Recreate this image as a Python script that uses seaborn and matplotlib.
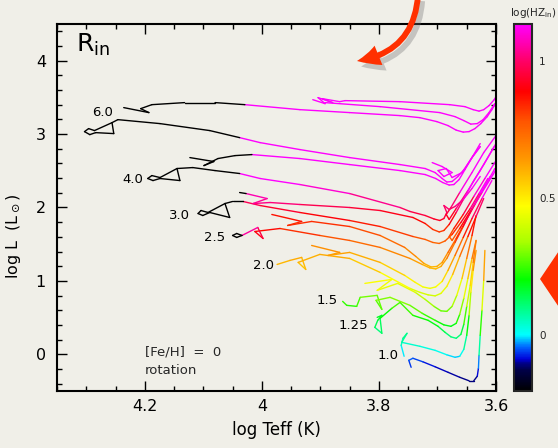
import numpy as np
import pandas as pd
import matplotlib
matplotlib.use("Agg")
import matplotlib.pyplot as plt
import seaborn as sns
from matplotlib.colors import LinearSegmentedColormap, Normalize
from matplotlib.ticker import MultipleLocator, FixedLocator
from matplotlib.patches import FancyArrowPatch, Polygon
import matplotlib.patheffects as pe

BG = "#f0efe8"
sns.set_theme(style="ticks")
plt.rcParams["font.family"] = ["DejaVu Sans"]
plt.rcParams["mathtext.fontset"] = "dejavusans"

# ---------------- data: evolutionary tracks (log Teff, log L, log HZ_in; None = black) -------------
m60_a_logT = [4.236, 4.193, 4.207, 4.188, 4.132, 4.080, 4.029, 3.935, 3.850, 3.764, 3.730, 3.701, 3.682, 3.668,
              3.656, 3.646, 3.636, 3.626, 3.615, 3.607, 3.600]
m60_a_logL = [3.361, 3.293, 3.347, 3.401, 3.429, 3.429, 3.401, 3.333, 3.293, 3.252, 3.224, 3.170, 3.116, 3.054,
              3.027, 3.034, 3.075, 3.143, 3.238, 3.333, 3.429]
m60_a_hz = [None, None, None, None, None, None, 1.65, 1.61, 1.60, 1.58, 1.57, 1.56, 1.53, 1.50,
            1.48, 1.49, 1.51, 1.54, 1.59, 1.64, 1.68]

m60_b_logT = [3.627, 3.639, 3.653, 3.665, 3.675, 3.684, 3.692, 3.704, 3.721, 3.764, 3.850, 3.935, 4.003, 4.038,
              4.089, 4.174, 4.246, 4.256, 4.253, 4.284, 4.294, 4.303, 4.296, 4.286, 4.256]
m60_b_logL = [2.871, 2.707, 2.531, 2.422, 2.354, 2.347, 2.395, 2.476, 2.531, 2.585, 2.680, 2.789, 2.884, 2.952,
              3.048, 3.143, 3.197, 3.156, 3.007, 3.020, 2.993, 3.034, 3.075, 3.048, 3.156]
m60_b_hz = [1.44, 1.35, 1.27, 1.21, 1.18, 1.17, 1.20, 1.24, 1.27, 1.29, 1.33, 1.37, 1.41, 1.44,
            None, None, None, None, None, None, None, None, None, None, None]

m60_c_logT = [3.913, 3.892, 3.904, 3.879, 3.897, 3.867, 3.858, 3.764, 3.679, 3.653, 3.639, 3.629, 3.621, 3.612,
              3.603, 3.600]
m60_c_logL = [3.469, 3.415, 3.497, 3.429, 3.483, 3.442, 3.456, 3.442, 3.401, 3.374, 3.333, 3.313, 3.333, 3.388,
              3.469, 3.510]
m60_c_hz = [1.7] * 16

m60_d_logT = [3.892, 3.798, 3.696, 3.670, 3.655, 3.643, 3.632, 3.622, 3.612, 3.602]
m60_d_logL = [3.429, 3.374, 3.293, 3.238, 3.184, 3.136, 3.143, 3.197, 3.293, 3.415]
m60_d_hz = [1.65] * 10

m40_a_logT = [4.123, 4.082, 4.099, 4.075, 4.046, 4.017, 3.935, 3.850, 3.764, 3.721, 3.703, 3.691, 3.680, 3.672,
              3.663, 3.653, 3.641, 3.627]
m40_a_logL = [2.680, 2.626, 2.571, 2.667, 2.707, 2.721, 2.667, 2.585, 2.503, 2.449, 2.395, 2.340, 2.306, 2.313,
              2.381, 2.517, 2.680, 2.830]
m40_a_hz = [None, None, None, None, None, 1.31, 1.28, 1.24, 1.22, 1.20, 1.18, 1.15, 1.14, 1.14,
            1.17, 1.24, 1.32, 1.40]

m40_b_logT = [3.627, 3.641, 3.656, 3.670, 3.680, 3.689, 3.684, 3.689, 3.696, 3.706, 3.721, 3.747, 3.764, 3.850,
              3.935, 4.003, 4.038, 4.080, 4.118, 4.145, 4.140, 4.174, 4.186, 4.195, 4.188, 4.174, 4.145]
m40_b_logL = [2.422, 2.259, 2.109, 2.014, 1.973, 2.027, 1.932, 1.850, 1.823, 1.844, 1.891, 1.946, 2.000, 2.190,
              2.313, 2.395, 2.463, 2.503, 2.544, 2.531, 2.367, 2.395, 2.367, 2.395, 2.435, 2.408, 2.531]
m40_b_hz = [1.22, 1.13, 1.06, 1.01, 0.99, 1.02, 0.97, 0.93, 0.92, 0.93, 0.95, 0.97, 1.00, 1.07,
            1.12, 1.16, 1.20, None, None, None, None, None, None, None, None, None, None]

m40_c_logT = [3.709, 3.692, 3.675, 3.689, 3.699, 3.685, 3.675, 3.658, 3.641, 3.627]
m40_c_logL = [2.612, 2.558, 2.476, 2.422, 2.503, 2.531, 2.408, 2.476, 2.680, 2.830]
m40_c_hz = [1.25] * 10

m30_a_logT = [4.038, 4.027, 3.991, 4.015, 3.986, 3.935, 3.850, 3.798, 3.742, 3.721, 3.708, 3.697, 3.689, 3.680,
              3.668, 3.653, 3.638, 3.621, 3.603]
m30_a_logL = [2.204, 2.190, 2.122, 2.054, 2.068, 2.041, 2.000, 1.959, 1.864, 1.782, 1.701, 1.667, 1.687, 1.769,
              1.932, 2.150, 2.367, 2.585, 2.830]
m30_a_hz = [None, 1.08, 1.05, 1.03, 1.03, 1.00, 0.95, 0.93, 0.90, 0.86, 0.82, 0.81, 0.82, 0.86,
            0.95, 1.06, 1.16, 1.27, 1.39]

m30_b_logT = [3.614, 3.629, 3.644, 3.660, 3.675, 3.687, 3.697, 3.708, 3.721, 3.742, 3.798, 3.850, 3.935, 4.003,
              4.032, 4.050, 4.063, 4.055, 4.089, 4.101, 4.109, 4.104, 4.092, 4.063]
m30_b_logL = [2.395, 2.190, 1.986, 1.796, 1.633, 1.544, 1.510, 1.524, 1.565, 1.605, 1.741, 1.823, 1.932, 2.027,
              2.082, 2.082, 2.054, 1.864, 1.932, 1.891, 1.918, 1.959, 1.932, 2.054]
m30_b_hz = [1.17, 1.07, 0.97, 0.88, 0.80, 0.76, 0.74, 0.75, 0.77, 0.79, 0.84, 0.87, 0.92, 0.96,
            1.00, None, None, None, None, None, None, None, None, None]

m30_c_logT = [3.600, 3.621, 3.641, 3.662, 3.677, 3.685, 3.680, 3.668, 3.648, 3.627, 3.607, 3.600]
m30_c_logL = [2.980, 2.748, 2.476, 2.204, 2.000, 1.905, 1.837, 1.986, 2.231, 2.503, 2.776, 2.871]
m30_c_hz = [1.40, 1.30, 1.18, 1.05, 0.97, 0.92, 0.90, 0.96, 1.08, 1.20, 1.35, 1.40]

m25_a_logT = [3.983, 3.932, 3.956, 3.915, 3.850, 3.798, 3.756, 3.737, 3.723, 3.711, 3.701, 3.692, 3.682, 3.668,
              3.653, 3.636, 3.619, 3.602]
m25_a_logL = [1.905, 1.810, 1.755, 1.810, 1.741, 1.619, 1.456, 1.333, 1.238, 1.190, 1.197, 1.252, 1.388, 1.578,
              1.796, 2.041, 2.286, 2.531]
m25_a_hz = [0.89, 0.85, 0.82, 0.85, 0.81, 0.77, 0.70, 0.65, 0.61, 0.59, 0.59, 0.62, 0.69, 0.78,
            0.89, 1.02, 1.14, 1.26]

m25_b_logT = [4.034, 4.043, 4.050, 4.043, 4.034, 4.007, 3.998, 4.012, 3.969, 3.901, 3.850, 3.798, 3.747, 3.726,
              3.713, 3.703, 3.694, 3.684, 3.670, 3.656, 3.641, 3.626, 3.610]
m25_b_logL = [1.619, 1.646, 1.619, 1.592, 1.619, 1.728, 1.578, 1.673, 1.714, 1.619, 1.551, 1.456, 1.306, 1.224,
              1.177, 1.163, 1.197, 1.306, 1.524, 1.741, 1.986, 2.204, 2.422]
m25_b_hz = [None, None, None, None, 1.10, 1.00, 0.92, 0.90, 0.86, 0.80, 0.76, 0.71, 0.64, 0.61,
            0.59, 0.58, 0.60, 0.65, 0.76, 0.87, 0.99, 1.10, 1.21]

m25_c_logT = [3.600, 3.619, 3.638, 3.656, 3.672, 3.680, 3.675, 3.662, 3.643, 3.624, 3.605, 3.600]
m25_c_logL = [2.639, 2.395, 2.150, 1.905, 1.714, 1.605, 1.551, 1.714, 1.959, 2.204, 2.449, 2.517]
m25_c_hz = [1.28, 1.16, 1.03, 0.90, 0.82, 0.77, 0.74, 0.82, 0.94, 1.06, 1.20, 1.23]

m20_a_logT = [3.915, 3.867, 3.887, 3.850, 3.798, 3.756, 3.738, 3.725, 3.713, 3.703, 3.692, 3.682, 3.670, 3.656,
              3.641, 3.624, 3.607]
m20_a_logL = [1.483, 1.388, 1.347, 1.388, 1.252, 1.075, 0.980, 0.918, 0.898, 0.918, 0.993, 1.143, 1.347, 1.592,
              1.850, 2.122, 2.367]
m20_a_hz = [0.68, 0.64, 0.62, 0.63, 0.58, 0.51, 0.47, 0.45, 0.44, 0.45, 0.49, 0.57, 0.67, 0.79,
            0.92, 1.06, 1.18]

m20_b_logT = [3.974, 3.952, 3.932, 3.925, 3.938, 3.901, 3.850, 3.798, 3.747, 3.730, 3.716, 3.704, 3.694, 3.684,
              3.674, 3.662, 3.648, 3.634, 3.621]
m20_b_logL = [1.224, 1.279, 1.320, 1.156, 1.252, 1.361, 1.306, 1.116, 0.898, 0.844, 0.810, 0.796, 0.830, 0.925,
              1.088, 1.333, 1.605, 1.878, 2.122]
m20_b_hz = [0.58, 0.60, 0.62, 0.55, 0.58, 0.62, 0.60, 0.52, 0.42, 0.41, 0.40, 0.40, 0.41, 0.46,
            0.54, 0.66, 0.80, 0.94, 1.06]

m15_a_logT = [3.824, 3.778, 3.803, 3.768, 3.738, 3.721, 3.706, 3.694, 3.684, 3.675, 3.667, 3.658, 3.650, 3.641, 3.634]
m15_a_logL = [0.966, 1.020, 0.871, 0.966, 0.844, 0.748, 0.653, 0.592, 0.585, 0.653, 0.803, 1.034, 1.306, 1.619, 1.891]
m15_a_hz = [0.45, 0.48, 0.42, 0.45, 0.40, 0.36, 0.31, 0.28, 0.28, 0.31, 0.38, 0.50, 0.64, 0.80, 0.93]

m15_b_logT = [3.862, 3.855, 3.838, 3.832, 3.803, 3.795, 3.805, 3.781, 3.747, 3.726, 3.704, 3.689, 3.677, 3.668,
              3.662, 3.655, 3.648, 3.641, 3.634]
m15_b_logL = [0.721, 0.667, 0.653, 0.776, 0.803, 0.612, 0.735, 0.776, 0.667, 0.558, 0.463, 0.401, 0.381, 0.422,
              0.544, 0.762, 1.034, 1.306, 1.551]
m15_b_hz = [0.25, 0.23, 0.23, 0.28, 0.31, 0.25, 0.29, 0.32, 0.30, 0.26, 0.22, 0.19, 0.18, 0.20,
            0.26, 0.37, 0.50, 0.64, 0.76]

m125_b_logT = [3.803, 3.795, 3.802, 3.807, 3.795, 3.798, 3.778, 3.764, 3.742, 3.716, 3.699, 3.687, 3.677, 3.668,
               3.660, 3.655, 3.650, 3.644, 3.639, 3.634]
m125_b_logL = [0.503, 0.531, 0.463, 0.367, 0.286, 0.490, 0.626, 0.707, 0.531, 0.463, 0.381, 0.299, 0.238, 0.218,
               0.272, 0.408, 0.653, 0.939, 1.252, 1.551]
m125_b_hz = [0.17, 0.18, 0.16, 0.12, 0.09, 0.17, 0.24, 0.28, 0.22, 0.20, 0.17, 0.13, 0.10, 0.10,
             0.12, 0.19, 0.32, 0.46, 0.62, 0.77]

m10_a_logT = [3.757, 3.762, 3.759, 3.752, 3.761, 3.730, 3.704, 3.684, 3.670, 3.662, 3.655, 3.650, 3.646, 3.643,
              3.639, 3.634]
m10_a_logL = [-0.027, 0.122, 0.218, 0.286, 0.163, 0.109, 0.054, -0.007, -0.041, -0.027, 0.068, 0.259, 0.531, 0.844,
              1.143, 1.415]
m10_a_hz = [-0.04, 0.03, 0.08, 0.11, 0.05, 0.03, 0.02, 0.00, -0.02, -0.01, 0.03, 0.13, 0.27, 0.42, 0.58, 0.71]

m10_b_logT = [3.619, 3.621, 3.624, 3.627, 3.629, 3.630, 3.632, 3.638, 3.646, 3.662, 3.682, 3.704, 3.725, 3.742,
              3.749, 3.745]
m10_b_logL = [1.415, 1.007, 0.599, 0.259, -0.014, -0.190, -0.299, -0.361, -0.361, -0.313, -0.245, -0.170, -0.102,
              -0.054, -0.082, -0.177]
m10_b_hz = [0.72, 0.52, 0.32, 0.15, 0.00, -0.07, -0.10, -0.11, -0.11, -0.10, -0.10, -0.09, -0.07, -0.05,
            -0.05, -0.08]

# track labels
mass_labels = ["6.0", "4.0", "3.0", "2.5", "2.0", "1.5", "1.25", "1.0"]
mass_label_logT = [4.272, 4.221, 4.140, 4.080, 3.998, 3.889, 3.843, 3.785]
mass_label_logL = [3.293, 2.381, 1.891, 1.592, 1.211, 0.735, 0.395, -0.014]

# colour scale of log(HZ_in)
cbar_stops = [-0.205, -0.13, -0.105, -0.09, -0.045, 0.0, 0.1, 0.2, 0.34, 0.47, 0.64, 0.78, 0.89, 1.0, 1.135]
cbar_colors = ["#000000", "#000048", "#000088", "#0000d8", "#0066ff", "#00ffff", "#00ff80", "#00ff00",
               "#aaff00", "#ffff00", "#ff9900", "#ff5500", "#ff0000", "#ff0066", "#ff00ff"]
cbar_ticks = [0, 0.5, 1]
cbar_ticklabels = ["0", "0.5", "1"]

pieces = [
    (m60_a_logT, m60_a_logL, m60_a_hz), (m60_b_logT, m60_b_logL, m60_b_hz),
    (m60_c_logT, m60_c_logL, m60_c_hz), (m60_d_logT, m60_d_logL, m60_d_hz),
    (m40_a_logT, m40_a_logL, m40_a_hz), (m40_b_logT, m40_b_logL, m40_b_hz),
    (m40_c_logT, m40_c_logL, m40_c_hz),
    (m30_a_logT, m30_a_logL, m30_a_hz), (m30_b_logT, m30_b_logL, m30_b_hz),
    (m30_c_logT, m30_c_logL, m30_c_hz),
    (m25_a_logT, m25_a_logL, m25_a_hz), (m25_b_logT, m25_b_logL, m25_b_hz),
    (m25_c_logT, m25_c_logL, m25_c_hz),
    (m20_a_logT, m20_a_logL, m20_a_hz), (m20_b_logT, m20_b_logL, m20_b_hz),
    (m15_a_logT, m15_a_logL, m15_a_hz), (m15_b_logT, m15_b_logL, m15_b_hz),
    (m125_b_logT, m125_b_logL, m125_b_hz),
    (m10_a_logT, m10_a_logL, m10_a_hz), (m10_b_logT, m10_b_logL, m10_b_hz),
]

rows = []
seg = 0
for T, L, H in pieces:
    for i in range(len(T) - 1):
        h0, h1 = H[i], H[i + 1]
        val = np.nan if (h0 is None or h1 is None) else 0.5 * (h0 + h1)
        rows.append((seg, T[i], L[i], val))
        rows.append((seg, T[i + 1], L[i + 1], val))
        seg += 1
df = pd.DataFrame(rows, columns=["seg", "logT", "logL", "hz"])

vmin, vmax = cbar_stops[0], cbar_stops[-1]
cmap = LinearSegmentedColormap.from_list(
    "hz", [((s - vmin) / (vmax - vmin), c) for s, c in zip(cbar_stops, cbar_colors)], N=512)
norm = Normalize(vmin=vmin, vmax=vmax)

# ---------------- figure ----------------
W, H_ = 558, 448
fig = plt.figure(figsize=(W / 100, H_ / 100), dpi=100, facecolor=BG)
ax = fig.add_axes([57 / W, 1 - 391 / H_, 439 / W, 367 / H_], facecolor=BG)

col = df[df["hz"].notna()]
blk = df[df["hz"].isna()]
sns.lineplot(data=col, x="logT", y="logL", hue="hz", units="seg", estimator=None, sort=False,
             palette=cmap, hue_norm=norm, legend=False, linewidth=1.0, ax=ax)
sns.lineplot(data=blk, x="logT", y="logL", units="seg", estimator=None, sort=False,
             color="black", legend=False, linewidth=1.0, ax=ax)

ax.set_xlim(4.35, 3.6)
ax.set_ylim(-0.5, 4.5)
ax.set_xticks([4.2, 4.0, 3.8, 3.6])
ax.set_xticklabels(["4.2", "4", "3.8", "3.6"])
ax.set_yticks([0, 1, 2, 3, 4])
ax.set_yticklabels(["0", "1", "2", "3", "4"])
ax.xaxis.set_minor_locator(MultipleLocator(0.05))
ax.yaxis.set_minor_locator(MultipleLocator(0.2))
ax.tick_params(which="both", direction="in", top=True, right=True, color="black", width=1.0)
ax.tick_params(which="major", length=7, labelsize=11.5, colors="black")
ax.tick_params(which="minor", length=3.5)
ax.tick_params(axis="x", which="major", pad=6)
ax.tick_params(axis="y", which="major", pad=8)
for s in ax.spines.values():
    s.set_linewidth(1.5)
    s.set_color("black")
ax.set_xlabel("log Teff (K)", fontsize=12, labelpad=5, color="black")
ax.set_ylabel("log L  (L$_\\odot$)", fontsize=11.5, color="black")
ax.yaxis.set_label_coords(-0.078, 0.42)

for lab, t, l in zip(mass_labels, mass_label_logT, mass_label_logL):
    ax.text(t, l, lab, fontsize=9.5, ha="center", va="center", color="black")

ax.text(0.043, 0.924, "R$_{\\rm in}$", transform=ax.transAxes, fontsize=18, ha="left",
        va="baseline", color="black")
ax.text(0.2, 0.106, "[Fe/H]  =  0", transform=ax.transAxes, fontsize=9.5, ha="left", va="center")
ax.text(0.2, 0.057, "rotation", transform=ax.transAxes, fontsize=9.5, ha="left", va="center")

# colour bar
cax = fig.add_axes([514 / W, 1 - 391 / H_, 18 / W, 367 / H_])
sm = plt.cm.ScalarMappable(norm=norm, cmap=cmap)
cb = fig.colorbar(sm, cax=cax)
cb.set_ticks(cbar_ticks)
cb.set_ticklabels(cbar_ticklabels)
cb.ax.yaxis.set_minor_locator(FixedLocator(np.arange(-0.2, 1.15, 0.1)))
cax.tick_params(which="both", direction="in", left=True, right=True, color="black", width=1.0)
cax.tick_params(which="major", length=5, labelsize=7.5, pad=5)
cax.tick_params(which="minor", length=3)
cb.outline.set_linewidth(1.5)
cax.text(1.1, 1.012, "log(HZ$_{\\rm in}$)", transform=cax.transAxes, fontsize=7.5,
         ha="center", va="bottom")

# decorative arrows from the slide
shadow = [pe.SimplePatchShadow(offset=(3, -4), shadow_rgbFace="0.45", alpha=0.35), pe.Normal()]
arr = FancyArrowPatch(posA=(418 / W, 1.01), posB=(357 / W, 1 - 61 / H_), transform=fig.transFigure,
                      connectionstyle="arc3,rad=-0.4",
                      arrowstyle="simple,head_length=16,head_width=15,tail_width=4.2",
                      mutation_scale=1, shrinkA=0, shrinkB=0, color="#ff3000", lw=0,
                      path_effects=shadow, zorder=10)
fig.patches.append(arr)
tri = Polygon([(540 / W, 1 - 279 / H_), (1.01, 1 - 244 / H_), (1.01, 1 - 314 / H_)], closed=True,
              transform=fig.transFigure, color="#ff3000", lw=0, path_effects=shadow, zorder=10)
fig.patches.append(tri)

fig.savefig("out.png", dpi=100, facecolor=BG)
